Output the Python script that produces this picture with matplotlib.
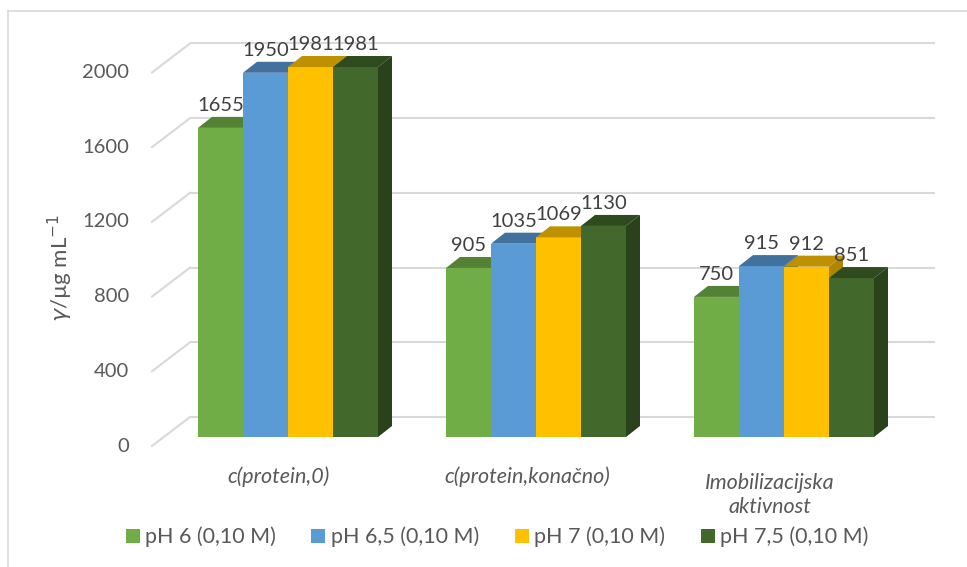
import matplotlib
matplotlib.use("Agg")
import matplotlib.pyplot as plt
from matplotlib.patches import Polygon, Patch
from matplotlib.lines import Line2D
import numpy as np

# ---- data ----
categories = ["c(protein,0)", "c(protein,konačno)", "Imobilizacijska\naktivnost"]
series_names = ["pH 6 (0,10 M)", "pH 6,5 (0,10 M)", "pH 7 (0,10 M)", "pH 7,5 (0,10 M)"]
ph6 = [1655, 905, 750]
ph65 = [1950, 1035, 915]
ph7 = [1981, 1069, 912]
ph75 = [1981, 1130, 851]
yticks = [0, 400, 800, 1200, 1600, 2000]

# ---- style ----
front_cols = ["#70AD47", "#5B9BD5", "#FFC000", "#43682B"]
top_cols = ["#548235", "#41719C", "#BF9000", "#2F4A1F"]
side_cols = ["#4E7A30", "#3C6A94", "#B08500", "#2A421B"]
txt = "#595959"
grid_c = "#D9D9D9"
FONT = "Lato"
plt.rcParams['font.family'] = [FONT, 'DejaVu Sans']

W, H = 967, 567
fig = plt.figure(figsize=(W / 100, H / 100), dpi=100)
ax = fig.add_axes([0, 0, 1, 1])

# scale helpers: pixel geometry of the Excel 3-D view
PX_X = 248.0            # pixels per category
PX_Y = 0.18677          # pixels per value unit
X0, Y0 = 288.0, 437.0   # pixel of category 0 centre / value 0 (bar front plane)
ax.set_xlim(-X0 / PX_X, (W - X0) / PX_X)
ax.set_ylim(-(H - Y0) / PX_Y, Y0 / PX_Y)
ax.axis('off')

def dx(px):
    return px / PX_X

def dy(px):
    return px / PX_Y

bw = dx(45)                  # bar width
dep_x, dep_y = dx(14), dy(11)  # bar depth
wall_x0, wall_x1 = dx(190 - X0), dx(935 - X0)
wall_dy = dy(20)
axis_dx, axis_dy = dx(-38), dy(-29)

# back wall gridlines + left side wall diagonals
for t in yticks:
    yb = t + wall_dy
    ax.plot([wall_x0, wall_x1], [yb, yb], color=grid_c, lw=1.5, zorder=1, solid_capstyle='butt')
    ax.plot([wall_x0 + axis_dx, wall_x0], [yb + axis_dy, yb], color=grid_c, lw=1.5, zorder=1)
    ax.text(dx(129 - X0), yb + axis_dy, f"{t}", ha='right', va='center',
            fontsize=14.5, color=txt)

xc = np.arange(len(categories))
data = [ph6, ph65, ph7, ph75]
for s, vals in enumerate(data):
    left = xc + (s - 2) * bw
    z = 2 + s
    bars = ax.bar(left, vals, width=bw, align='edge', color=front_cols[s], zorder=z,
                  linewidth=0)
    for xl, v in zip(left, vals):
        top = Polygon([(xl, v), (xl + bw, v), (xl + bw + dep_x, v + dep_y), (xl + dep_x, v + dep_y)],
                      closed=True, facecolor=top_cols[s], edgecolor='none', zorder=z)
        side = Polygon([(xl + bw, 0), (xl + bw, v), (xl + bw + dep_x, v + dep_y), (xl + bw + dep_x, dep_y)],
                       closed=True, facecolor=side_cols[s], edgecolor='none', zorder=z)
        ax.add_patch(top)
        ax.add_patch(side)
    ax.bar_label(bars, labels=[f"{v}" for v in vals], padding=10, fontsize=14.5,
                 color="#404040", zorder=10)

# category labels
for i, c in enumerate(categories):
    if '\n' in c:
        ax.text(xc[i] + dx(-14), dy(437 - 473), c, ha='center', va='top',
                fontsize=15.5, style='italic', color=txt, linespacing=1.28)
    else:
        ax.text(xc[i] + dx(-9), dy(437 - 477), c, ha='center', va='center',
                fontsize=15.5, style='italic', color=txt)

# y label
ax.text(dx(60 - X0), dy(437 - 268), r"$\it{\gamma}$/µg mL$^{-1}$", rotation=90,
        ha='center', va='center', fontsize=16, color=txt)

# legend
handles = [Patch(facecolor=c, edgecolor='none') for c in front_cols]
leg = fig.legend(handles, series_names, loc='center', bbox_to_anchor=(497 / W, 1 - 537 / H),
                 ncol=4, frameon=False, fontsize=15.5, handlelength=0.65, handleheight=0.65,
                 handletextpad=0.25, columnspacing=1.65, labelcolor=txt)

# outer chart frame
fig.add_artist(Line2D([7.5 / W, 7.5 / W], [0, 1 - 11 / H], color=grid_c, lw=1.2))
fig.add_artist(Line2D([7.5 / W, 1], [1 - 11 / H, 1 - 11 / H], color=grid_c, lw=1.2))

fig.savefig("out.png", dpi=100, facecolor='white')
